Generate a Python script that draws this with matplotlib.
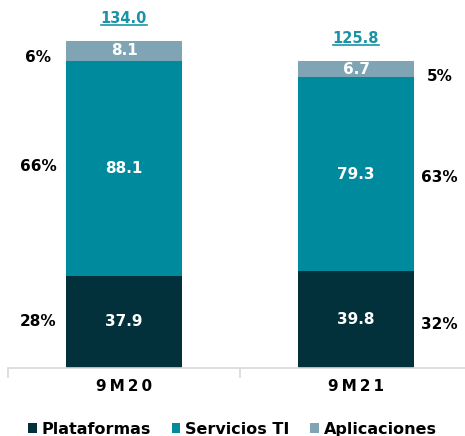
import matplotlib.pyplot as plt

plt.rcParams['font.family'] = ['DejaVu Sans']

periods = ["9M20", "9M21"]
plataformas = [37.9, 39.8]
servicios = [88.1, 79.3]
aplicaciones = [8.1, 6.7]
totals = ["134.0", "125.8"]
pct_plat = ["28%", "32%"]
pct_serv = ["66%", "63%"]
pct_apl = ["6%", "5%"]

c_plat = "#02303b"
c_serv = "#008a9e"
c_apl = "#7fa5b5"
c_total = "#1b93a6"

fig = plt.figure(figsize=(4.65, 4.36), dpi=100)
ax = fig.add_axes([8/465, 68/436, 464/465, 368/436])

x = [0, 1]
w = 0.5
b1 = ax.bar(x, plataformas, w, color=c_plat, label="Plataformas")
bottom2 = plataformas
b2 = ax.bar(x, servicios, w, bottom=bottom2, color=c_serv, label="Servicios TI")
bottom3 = [p + s for p, s in zip(plataformas, servicios)]
b3 = ax.bar(x, aplicaciones, w, bottom=bottom3, color=c_apl, label="Aplicaciones")

ax.set_xlim(-0.5, 1.5)
ax.set_ylim(0, 368/2.44)

# values inside bars
for i in x:
    ax.text(i, plataformas[i]/2, f"{plataformas[i]:.1f}", ha="center", va="center",
            color="white", fontsize=11, fontweight="bold")
    ax.text(i, plataformas[i] + servicios[i]/2, f"{servicios[i]:.1f}", ha="center", va="center",
            color="white", fontsize=11, fontweight="bold")
    ax.text(i, bottom3[i] + aplicaciones[i]/2, f"{aplicaciones[i]:.1f}", ha="center", va="center",
            color="white", fontsize=11, fontweight="bold")

# share labels at the sides (small vertical nudges like the original)
offs = [-0.37, 0.36]
nudge_plat = [0, -2]
nudge_serv = [0.8, -1.5]
for i in x:
    ax.text(i + offs[i], plataformas[i]/2 + nudge_plat[i], pct_plat[i], ha="center", va="center",
            fontsize=11, fontweight="bold", color="black")
    ax.text(i + offs[i], plataformas[i] + servicios[i]/2 + nudge_serv[i], pct_serv[i],
            ha="center", va="center", fontsize=11, fontweight="bold", color="black")
    ax.text(i + offs[i], bottom3[i] + aplicaciones[i]/2 - 3, pct_apl[i], ha="center", va="center",
            fontsize=11, fontweight="bold", color="black")

# totals, underlined
tot_texts = []
for i in x:
    top = bottom3[i] + aplicaciones[i]
    t = ax.text(i, top + 6, totals[i], ha="center", va="bottom",
                fontsize=10.5, fontweight="bold", color=c_total)
    tot_texts.append(t)

fig.canvas.draw()
r = fig.canvas.get_renderer()
for t in tot_texts:
    bb = t.get_window_extent(r)
    y0 = (bb.y0 + 1) / fig.bbox.height
    fig.add_artist(plt.Line2D([bb.x0 / fig.bbox.width, bb.x1 / fig.bbox.width], [y0, y0],
                              color=c_total, lw=1.2))

for s in ["top", "right", "left"]:
    ax.spines[s].set_visible(False)
ax.spines["bottom"].set_color("#d9d9d9")
ax.spines["bottom"].set_linewidth(1.2)
ax.set_yticks([])
ax.set_xticks(x)
ax.set_xticklabels(["\u2009".join(p) for p in periods], fontsize=11, fontweight="bold")
ax.tick_params(axis="x", length=0, pad=8)
ax.set_xticks([-0.5, 0.5, 1.5], minor=True)
ax.tick_params(axis="x", which="minor", length=7, color="#d9d9d9", width=1.2)

fig.legend(handles=[b1, b2, b3], loc="lower center", bbox_to_anchor=(0.5, -0.035), ncol=3,
           frameon=False, prop={"weight": "bold", "size": 11.5}, handlelength=0.55,
           handleheight=0.55, handletextpad=0.3, columnspacing=1.3)

fig.savefig("out.png", dpi=100)
